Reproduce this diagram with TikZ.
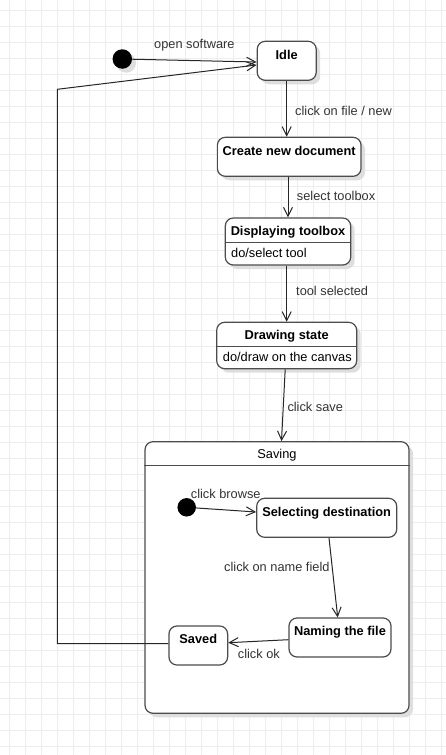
\documentclass[tikz,border=0pt]{standalone}
\usepackage{fontspec}
\setmainfont{Liberation Sans}
\usetikzlibrary{arrows.meta}

\begin{document}
\begin{tikzpicture}[x=1pt, y=-1pt,
    gridline/.style={draw=black!7, line width=0.8pt},
    state/.style={rectangle, rounded corners=8pt, draw=black!70, line width=1.2pt, fill=white,
        inner ysep=0pt, inner xsep=2pt, text height=17.7pt, text depth=21.3pt,
        font=\fontsize{12.8pt}{15pt}\selectfont\bfseries},
    shadowbox/.style={rectangle, rounded corners=8pt, fill=black!13, inner sep=0pt},
    initial/.style={circle, fill=black, inner sep=0pt},
    divider/.style={draw=black!70, line width=1.2pt},
    body/.style={inner sep=0pt, font=\fontsize{12.8pt}{15pt}\selectfont},
    lbl/.style={inner sep=0pt, text=black!80, font=\fontsize{12.8pt}{15pt}\selectfont},
    trans/.style={draw=black!85, line width=1pt, -{Straight Barb[length=9pt, width=9pt]}}
]
    \useasboundingbox (0,0) rectangle (446,755);

    % Background grid
    \foreach \gx in {0,...,27}
        \draw[gridline] (9.3+16*\gx,0) -- (9.3+16*\gx,755);
    \foreach \gy in {0,...,46}
        \draw[gridline] (0,10+16*\gy) -- (446,10+16*\gy);

    % Shadows
    \foreach \sx/\sy/\sw/\sh in {286.7/60.8/59/39, 289.2/156.8/143.7/39, 288/241.5/125.4/47,
        286.7/345.5/140/46.4, 277/577.5/264/271.6, 326.7/517.8/140/39, 340/637.5/102/39, 198.3/645.5/58.7/39}
        \fill[black!13, rounded corners=8pt] (\sx-\sw/2+4,\sy-\sh/2+4) rectangle (\sx+\sw/2+4,\sy+\sh/2+4);
    \fill[black!13] (126.3,63) circle (9.75pt);
    \fill[black!13] (190.7,511.3) circle (9.25pt);

    % Top level states
    \node[initial, minimum size=19.5pt] (start) at (122.3,59) {};
    \node[state, minimum width=59pt] (idle) at (286.7,60.8) {Idle};
    \node[state, minimum width=143.7pt] (create) at (289.2,156.8) {Create new document};
    \node[state, minimum width=125.4pt, text height=17pt, text depth=30pt] (disp) at (288,241.5) {Displaying toolbox};
    \draw[divider] ([yshift=-24.7pt]disp.north west) -- ([yshift=-24.7pt]disp.north east);
    \node[body, anchor=base west] (dispdo) at (231,257.7) {do/select tool};
    \node[state, minimum width=140pt, text height=16.7pt, text depth=29.7pt] (draw) at (286.7,345.5) {Drawing state};
    \draw[divider] ([yshift=-24.4pt]draw.north west) -- ([yshift=-24.4pt]draw.north east);
    \node[body, anchor=base west] (drawdo) at (222.7,361.7) {do/draw on the canvas};

    % Composite state
    \node[state, minimum width=264pt, text height=16.6pt, text depth=255pt, font=\fontsize{12.8pt}{15pt}\selectfont] (saving) at (277,577.5) {Saving};
    \draw[divider] ([yshift=-24.3pt]saving.north west) -- ([yshift=-24.3pt]saving.north east);
    \node[initial, minimum size=18.5pt] (init2) at (186.7,507.3) {};
    \node[state, minimum width=140pt] (sel) at (326.7,517.8) {Selecting destination};
    \node[state, minimum width=102pt] (name) at (340,637.5) {Naming the file};
    \node[state, minimum width=58.7pt] (saved) at (198.3,645.5) {Saved};

    % Transitions
    \coordinate (bend) at (57.3,89.3);
    \draw[trans] (start) -- ([yshift=-1.2pt]idle.west);
    \draw[trans] ([yshift=2pt]saved.west) -| (bend) -- ([yshift=-4.2pt]idle.west);
    \draw[trans] (idle.south) -- (idle.south |- create.north);
    \draw[trans] (create.south -| disp.north) -- (disp.north);
    \draw[trans] (disp.south -| draw.north) -- (draw.north);
    \draw[trans] ([xshift=-1.5pt]draw.south) -- ([xshift=4.5pt]saving.north);
    \draw[trans] (init2) -- ([yshift=5.8pt]sel.west);
    \draw[trans] ([xshift=2.3pt]sel.south) -- ([xshift=-2.3pt]name.north);
    \draw[trans] ([yshift=-2.2pt]name.west) -- ([yshift=2.8pt]saved.east);

    % Labels
    \node[lbl, anchor=base west] (lopen) at (154,48.3) {open software};
    \node[lbl, anchor=base west] (lfile) at (295,115) {click on file / new};
    \node[lbl, anchor=base west] (ltoolbox) at (296.7,200) {select toolbox};
    \node[lbl, anchor=base west] (ltool) at (296,295.7) {tool selected};
    \node[lbl, anchor=base west] (lsave) at (287.3,411) {click save};
    \node[lbl, anchor=base west] (lbrowse) at (190.7,498.3) {click browse};
    \node[lbl, anchor=base west] (lfield) at (224,571) {click on name field};
    \node[lbl, anchor=base west] (lok) at (237.7,658.7) {click ok};
\end{tikzpicture}
\end{document}
